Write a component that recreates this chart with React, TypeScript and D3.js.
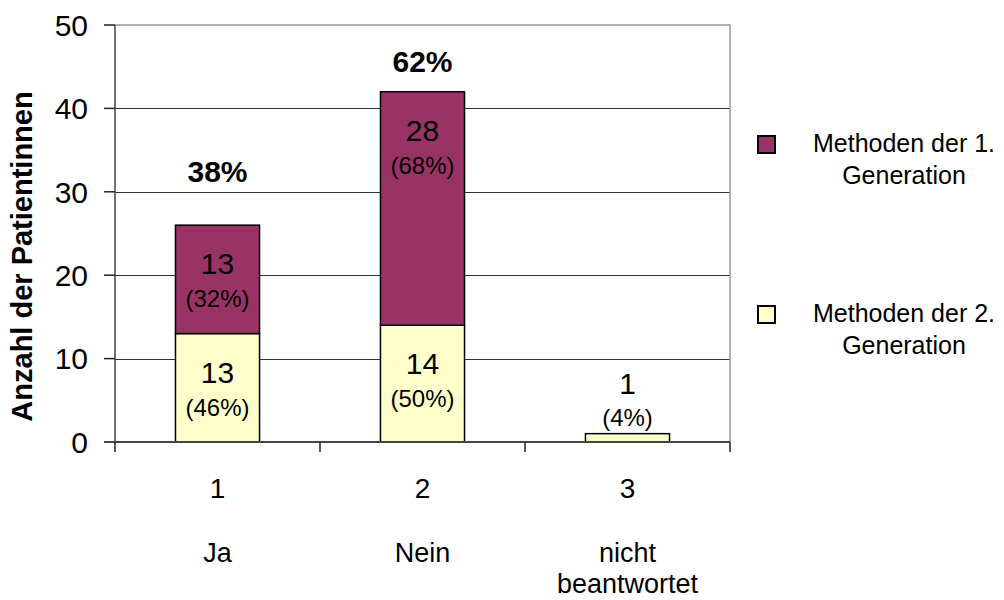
import React, { useEffect, useRef } from 'react';
import * as d3 from 'd3';

const categories = ['1', '2', '3'];
const categoryNames = [['Ja'], ['Nein'], ['nicht', 'beantwortet']];
const gen2Values = [13, 14, 1];
const gen1Values = [13, 28, 0];
const gen2Pct = ['(46%)', '(50%)', '(4%)'];
const gen1Pct = ['(32%)', '(68%)', ''];
const totalPct = ['38%', '62%', ''];
// where the bold share labels sit, in axis units
const totalLabelAt = [31.2, 44.4, 0];
const yTicks = [0, 10, 20, 30, 40, 50];

const seriesNames = [['Methoden der 1.', 'Generation'], ['Methoden der 2.', 'Generation']];
const COLORS = { gen1: '#993366', gen2: '#FFFFCC' };

export default function App() {
  const svgRef = useRef<SVGSVGElement>(null);

  useEffect(() => {
    if (!svgRef.current) return;
    const width = 1004;
    const height = 600;
    const margin = { top: 25, right: 274, bottom: 158, left: 115 };
    const font = "Arial, 'Liberation Sans', sans-serif";

    const svg = d3.select(svgRef.current);
    svg.selectAll('*').remove();

    const x = d3.scaleBand()
      .domain(categories)
      .range([margin.left, width - margin.right])
      .padding(0);
    const y = d3.scaleLinear()
      .domain([0, 50])
      .range([height - margin.bottom, margin.top]);

    const barW = x.bandwidth() * 0.41;
    const cx = (c: string) => x(c)! + x.bandwidth() / 2;

    // grid lines
    svg.append('g')
      .selectAll('line')
      .data(yTicks.filter(t => t > 0 && t < 50))
      .enter()
      .append('line')
      .attr('x1', margin.left)
      .attr('x2', width - margin.right)
      .attr('y1', d => Math.round(y(d)) + 0.5)
      .attr('y2', d => Math.round(y(d)) + 0.5)
      .attr('stroke', '#333')
      .attr('stroke-width', 1);

    // top + right border of plot area
    svg.append('path')
      .attr('d', `M${margin.left},${y(50)}H${width - margin.right}V${y(0)}`)
      .attr('fill', 'none')
      .attr('stroke', '#999')
      .attr('stroke-width', 1.5);

    // bars
    const stacks = categories.map((c, i) => ({
      c,
      segs: [
        { y0: 0, y1: gen2Values[i], fill: COLORS.gen2, pct: gen2Pct[i] },
        { y0: gen2Values[i], y1: gen2Values[i] + gen1Values[i], fill: COLORS.gen1, pct: gen1Pct[i] },
      ].filter(s => s.y1 > s.y0),
    }));

    stacks.forEach(st => {
      st.segs.forEach(s => {
        svg.append('rect')
          .attr('x', cx(st.c) - barW / 2)
          .attr('y', y(s.y1))
          .attr('width', barW)
          .attr('height', y(s.y0) - y(s.y1))
          .attr('fill', s.fill)
          .attr('stroke', '#000')
          .attr('stroke-width', 1.5);
      });
    });

    // segment labels
    stacks.forEach(st => {
      st.segs.forEach(s => {
        const top = y(s.y1);
        const segH = y(s.y0) - top;
        const inside = segH > 60;
        const numY = inside ? top + 49 : top - 40;
        const pctY = inside ? top + 82 : top - 8;
        svg.append('text')
          .attr('x', cx(st.c))
          .attr('y', numY)
          .attr('text-anchor', 'middle')
          .style('font-family', font)
          .style('font-size', '30px')
          .style('fill', '#000')
          .text(String(s.y1 - s.y0));
        svg.append('text')
          .attr('x', cx(st.c))
          .attr('y', pctY)
          .attr('text-anchor', 'middle')
          .style('font-family', font)
          .style('font-size', '24px')
          .style('fill', '#000')
          .text(s.pct);
      });
    });

    // bold share labels
    svg.selectAll('.total')
      .data(categories.map((c, i) => ({ c, t: totalPct[i], at: totalLabelAt[i] })).filter(d => d.t))
      .enter()
      .append('text')
      .attr('class', 'total')
      .attr('x', d => cx(d.c))
      .attr('y', d => y(d.at))
      .attr('text-anchor', 'middle')
      .style('font-family', font)
      .style('font-size', '30px')
      .style('font-weight', 'bold')
      .text(d => d.t);

    // y axis
    svg.append('line')
      .attr('x1', margin.left).attr('x2', margin.left)
      .attr('y1', y(50)).attr('y2', y(0))
      .attr('stroke', '#444').attr('stroke-width', 1.5);
    svg.append('g')
      .selectAll('line')
      .data(yTicks)
      .enter()
      .append('line')
      .attr('x1', margin.left - 11).attr('x2', margin.left)
      .attr('y1', d => y(d)).attr('y2', d => y(d))
      .attr('stroke', '#222').attr('stroke-width', 1.5);
    svg.append('g')
      .selectAll('text')
      .data(yTicks)
      .enter()
      .append('text')
      .attr('x', margin.left - 27)
      .attr('y', d => y(d) + 10.8)
      .attr('text-anchor', 'end')
      .style('font-family', font)
      .style('font-size', '30px')
      .text(d => String(d));

    // x axis
    svg.append('line')
      .attr('x1', margin.left - 11).attr('x2', width - margin.right)
      .attr('y1', y(0)).attr('y2', y(0))
      .attr('stroke', '#444').attr('stroke-width', 2);
    const bounds = categories.map(c => x(c)!).concat([x(categories[categories.length - 1])! + x.bandwidth()]);
    svg.append('g')
      .selectAll('line')
      .data(bounds)
      .enter()
      .append('line')
      .attr('x1', d => d).attr('x2', d => d)
      .attr('y1', y(0)).attr('y2', y(0) + 10)
      .attr('stroke', '#222').attr('stroke-width', 1.5);

    categories.forEach((c, i) => {
      svg.append('text')
        .attr('x', cx(c))
        .attr('y', y(0) + 56)
        .attr('text-anchor', 'middle')
        .style('font-family', font)
        .style('font-size', '28px')
        .text(c);
      categoryNames[i].forEach((line, j) => {
        svg.append('text')
          .attr('x', cx(c))
          .attr('y', y(0) + 120 + j * 31)
          .attr('text-anchor', 'middle')
          .style('font-family', font)
          .style('font-size', '27px')
          .text(line);
      });
    });

    // y title
    svg.append('text')
      .attr('transform', `translate(32,${(y(0) + y(50)) / 2 + 23}) rotate(-90)`)
      .attr('text-anchor', 'middle')
      .style('font-family', font)
      .style('font-size', '29px')
      .style('font-weight', 'bold')
      .text('Anzahl der Patientinnen');

    // legend
    const legend = [
      { fill: COLORS.gen1, names: seriesNames[0], top: 136 },
      { fill: COLORS.gen2, names: seriesNames[1], top: 306 },
    ];
    legend.forEach(l => {
      svg.append('rect')
        .attr('x', 758).attr('y', l.top)
        .attr('width', 17).attr('height', 17)
        .attr('fill', l.fill)
        .attr('stroke', '#000').attr('stroke-width', 2);
      l.names.forEach((line, j) => {
        svg.append('text')
          .attr('x', 904)
          .attr('y', l.top + 16 + j * 32)
          .attr('text-anchor', 'middle')
          .style('font-family', font)
          .style('font-size', '25px')
          .text(line);
      });
    });
  }, []);

  return (
    <svg
      ref={svgRef}
      width={1004}
      height={600}
      viewBox="0 0 1004 600"
      style={{ position: 'fixed', left: 0, top: 0, background: '#fff' }}
    />
  );
}
